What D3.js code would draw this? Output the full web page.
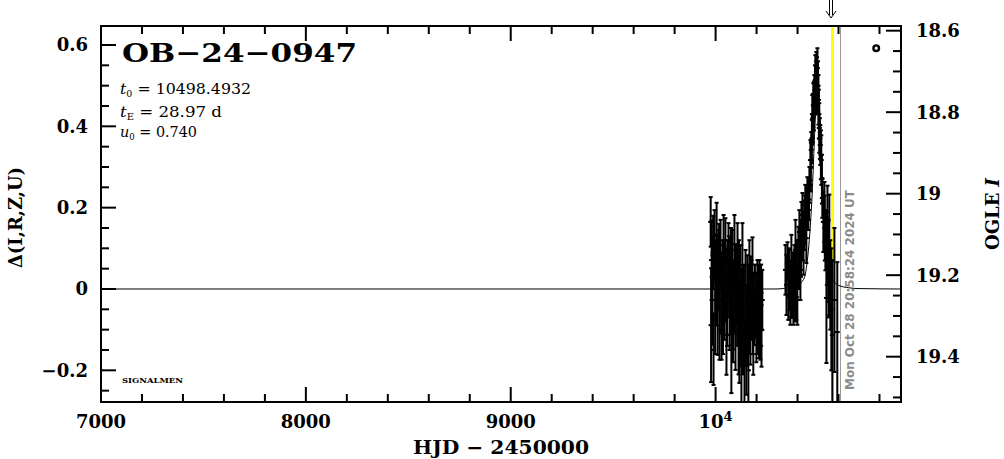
<!DOCTYPE html>
<html><head><meta charset="utf-8">
<script src="https://cdn.jsdelivr.net/npm/d3@7"></script>
<style>body{margin:0;background:#fff}svg{display:block}</style>
</head><body><svg id="c" width="1004" height="459"></svg>
<script>
// ---------------- data ----------------
const eventName = "OB\u221224\u22120947";
const paramSyms = ["t", "t", "u"];
const paramSubs = ["0", "E", "0"];
const paramVals = ["10498.4932", "28.97 d", "0.740"];
const surveyTag = "SIGNALMEN";
const dateLabel = "Mon Oct 28 20:58:24 2024 UT";
const xTitle = "HJD \u2212 2450000";
const yLeftTitle = "\u0394(I,R,Z,U)";
const yRightTitle = "OGLE ";
const yRightTitleItalic = "I";

const xMajorTicks = [7000, 8000, 9000, 10000];
const xTickLabels = ["7000", "8000", "9000", "10^4"];
const yLeftMajorTicks = [-0.2, 0, 0.2, 0.4, 0.6];
const yLeftTickLabels = ["\u22120.2", "0", "0.2", "0.4", "0.6"];
const yRightMajorTicks = [18.6, 18.8, 19.0, 19.2, 19.4];
const yRightTickLabels = ["18.6", "18.8", "19", "19.2", "19.4"];

// observations: HJD-2450000, delta mag, error
const obsT = [9976,9978,9980.5,9985,9990,9995,10000,10005,10010,10014,10019,10024,10029,10034,10039,10043,10048,10053,10058,10063,10068,10073,10077,10082,10087,10092,10097,10102,10107,10112,10116,10121,10126,10131,10136,10141,10146,10150,10155,10160,10165,10170,10175,10180,10184,10189,10199,10204,10209,10214,10219,10224,10228,
 10341,10346,10351,10355,10360,10365,10370,10375,10380,10385,10390,10394,10399,10404,10409,10414,10419,10424,10429,10433,10438,10443,10448,10453,10458,10463,10467,10472,10477,10482,10487,10492,10497,10502,10506,10511,10516,10521,10526,10531,10536,10541,10546,10550,10555,10560,10570,10580,10594,
 9983,9988,9998,10007,10017,10027,10036,10046,10056,10066,10075,10085,10095,10105,10114,10124,10134,10144,10153,10163,10172,10182,10192,10202,10212,10222,
 10358,10368,10378,10388,10397,10407,10417,10427,10436,10446,10456,10465,10470,10475,10480,10485,10490,10495,10500,10504,10509,10514,10519,10533,10543,10552,10565];
const obsD = [0.165,-0.089,0.071,-0.027,-0.15,0.108,0.022,0.133,-0.052,0.047,-0.10,0.084,-0.076,0.01,0.108,-0.027,0.076,-0.113,0.034,0.076,-0.052,-0.002,-0.138,0.047,-0.039,0.096,-0.076,0.01,0.066,-0.10,-0.125,-0.015,-0.175,0.059,-0.052,-0.187,-0.002,-0.125,-0.027,-0.20,0.022,-0.076,-0.027,0.034,-0.113,-0.052,-0.089,-0.015,-0.039,-0.027,-0.064,-0.10,-0.027,
 0.047,0.01,0.071,-0.015,0.022,-0.027,0.059,-0.002,-0.039,0.034,0.096,0.01,-0.027,0.084,0.12,0.047,0.145,0.182,0.096,0.157,0.207,0.125,0.231,0.194,0.256,0.317,0.342,0.416,0.452,0.477,0.514,0.534,0.543,0.465,0.396,0.354,0.317,0.224,0.165,0.189,0.12,-0.022,0.175,0.066,0.084,0.01,-0.113,-0.027,-0.106,
 0.03,0.09,-0.06,0.02,0.06,-0.01,-0.05,0.02,-0.02,0.03,0.05,-0.08,0.0,-0.04,0.02,-0.07,-0.10,-0.06,-0.09,-0.05,-0.02,-0.06,-0.03,-0.06,-0.08,-0.04,
 0.04,0.0,0.02,-0.01,0.05,0.07,0.10,0.13,0.17,0.20,0.22,0.30,0.37,0.42,0.45,0.49,0.50,0.50,0.50,0.43,0.37,0.33,0.27,0.15,0.10,0.05,-0.05];
const obsE = [0.061,0.14,0.098,0.11,0.086,0.086,0.098,0.079,0.11,0.098,0.074,0.086,0.098,0.11,0.074,0.098,0.098,0.098,0.086,0.086,0.098,0.11,0.118,0.098,0.11,0.086,0.123,0.098,0.096,0.11,0.106,0.123,0.11,0.103,0.11,0.11,0.098,0.135,0.11,0.098,0.098,0.11,0.098,0.093,0.098,0.086,0.091,0.086,0.098,0.098,0.11,0.091,0.074,
 0.061,0.074,0.044,0.061,0.074,0.061,0.074,0.069,0.049,0.074,0.074,0.086,0.061,0.069,0.074,0.074,0.069,0.054,0.061,0.061,0.049,0.061,0.044,0.049,0.044,0.049,0.044,0.061,0.054,0.049,0.061,0.049,0.049,0.061,0.061,0.049,0.061,0.049,0.074,0.074,0.074,0.16,0.079,0.098,0.148,0.11,0.184,0.177,0.172,
 0.10,0.09,0.10,0.11,0.10,0.10,0.11,0.10,0.12,0.10,0.10,0.10,0.11,0.10,0.10,0.12,0.11,0.12,0.10,0.11,0.10,0.10,0.09,0.10,0.09,0.10,
 0.06,0.07,0.07,0.07,0.07,0.07,0.07,0.06,0.06,0.05,0.05,0.06,0.06,0.06,0.06,0.06,0.06,0.07,0.06,0.06,0.05,0.06,0.06,0.08,0.09,0.12,0.15];

// model curve
const modelT = [7000, 10300, 10350, 10400, 10430, 10450, 10470, 10485, 10498.5, 10511, 10526, 10546, 10566, 10600, 10650, 10700, 10905];
const modelD = [0, 0, 0.003, 0.01, 0.024, 0.08, 0.22, 0.40, 0.52, 0.40, 0.22, 0.08, 0.03, 0.009, 0.003, 0.001, 0];

const markerT = 10570.7;   // yellow line / arrow
const nowT = 10612.4;      // grey line (date stamp)
const legendT = 10784, legendMag = 18.643;

// ---------------- drawing ----------------
const svg = d3.select("#c");
const X0 = 101, X1 = 901, Y0 = 26, Y1 = 402;
const x = d3.scaleLinear().domain([7000, 10905]).range([X0, X1]);
const y = d3.scaleLinear().domain([-0.2779, 0.6467]).range([Y1, Y0]);
const yM = d3.scaleLinear().domain([18.5885, 19.5112]).range([Y0, Y1]);
const serif = "'DejaVu Serif', serif";

svg.append("rect").attr("width", 1004).attr("height", 459).attr("fill", "#fff");
svg.append("clipPath").attr("id", "clip").append("rect")
  .attr("x", X0).attr("y", Y0).attr("width", X1 - X0).attr("height", Y1 - Y0);
const plot = svg.append("g").attr("clip-path", "url(#clip)");

// yellow marker & grey now-line
plot.append("line").attr("x1", x(markerT)).attr("x2", x(markerT)).attr("y1", Y0).attr("y2", Y1)
  .attr("stroke", "#ffff00").attr("stroke-width", 3);
const gx = Math.round(x(nowT)) - 0.5;
plot.append("line").attr("x1", gx).attr("x2", gx).attr("y1", Y0).attr("y2", Y1)
  .attr("stroke", "#999").attr("stroke-width", 1);

// model
plot.append("path").datum(modelT.map((t, i) => [t, modelD[i]]))
  .attr("d", d3.line().x(d => x(d[0])).y(d => y(d[1])).curve(d3.curveMonotoneX))
  .attr("fill", "none").attr("stroke", "#000").attr("stroke-width", 1);

// observations
const obs = obsT.map((t, i) => ({t, d: obsD[i], e: obsE[i]}));
const og = plot.append("g").attr("stroke", "#000").attr("stroke-width", 2);
obs.forEach(o => {
  const px = x(o.t), yt = y(o.d + o.e), yb = y(o.d - o.e);
  og.append("line").attr("x1", px).attr("x2", px).attr("y1", yt).attr("y2", yb);
  og.append("line").attr("x1", px - 2).attr("x2", px + 2).attr("y1", yt).attr("y2", yt);
  og.append("line").attr("x1", px - 2).attr("x2", px + 2).attr("y1", yb).attr("y2", yb);
  og.append("line").attr("x1", px - 2.5).attr("x2", px + 2.5).attr("y1", y(o.d)).attr("y2", y(o.d));
});

// legend circle
svg.append("circle").attr("cx", x(legendT)).attr("cy", yM(legendMag)).attr("r", 2.8)
  .attr("fill", "none").attr("stroke", "#000").attr("stroke-width", 2.4);

// frame
svg.append("rect").attr("x", X0).attr("y", Y0).attr("width", X1 - X0).attr("height", Y1 - Y0)
  .attr("fill", "none").attr("stroke", "#000").attr("stroke-width", 2);

// ticks
const tk = svg.append("g").attr("stroke", "#000").attr("stroke-width", 2);
const MAJ = 15, MIN = 8;
d3.range(7000, 10905, 200).forEach(t => {
  const len = xMajorTicks.includes(t) ? MAJ : MIN;
  tk.append("line").attr("x1", x(t)).attr("x2", x(t)).attr("y1", Y1).attr("y2", Y1 - len);
  tk.append("line").attr("x1", x(t)).attr("x2", x(t)).attr("y1", Y0).attr("y2", Y0 + len);
});
d3.range(-25, 65, 5).forEach(k => {
  const v = k / 100;
  const len = (k % 20 === 0) ? MAJ : MIN;
  tk.append("line").attr("x1", X0).attr("x2", X0 + len).attr("y1", y(v)).attr("y2", y(v));
});
d3.range(1860, 1955, 5).forEach(k => {
  const v = k / 100;
  const len = (k % 20 === 0) ? MAJ : MIN;
  tk.append("line").attr("x1", X1).attr("x2", X1 - len).attr("y1", yM(v)).attr("y2", yM(v));
});

// tick labels
const lab = svg.append("g").attr("font-family", serif).attr("font-weight", "bold").attr("font-size", 18).attr("fill", "#000");
xMajorTicks.forEach((t, i) => {
  const parts = xTickLabels[i].split("^");
  const tx = lab.append("text").attr("x", x(t)).attr("y", 428).attr("text-anchor", "middle");
  tx.append("tspan").text(parts[0]);
  if (parts[1]) tx.append("tspan").attr("dy", -7).attr("font-size", 13).text(parts[1]);
});
yLeftMajorTicks.forEach((v, i) => {
  lab.append("text").attr("x", 88).attr("y", y(v)).attr("dy", "0.36em").attr("text-anchor", "end").text(yLeftTickLabels[i]);
});
yRightMajorTicks.forEach((v, i) => {
  lab.append("text").attr("x", 916).attr("y", yM(v)).attr("dy", "0.36em").attr("text-anchor", "start").text(yRightTickLabels[i]);
});

// axis titles
svg.append("text").attr("x", 413).attr("y", 454).attr("font-family", serif).attr("font-weight", "bold")
  .attr("font-size", 19).attr("textLength", 176).attr("lengthAdjust", "spacingAndGlyphs").text(xTitle);
svg.append("text").attr("transform", "translate(22,217.5) rotate(-90)").attr("text-anchor", "middle")
  .attr("font-family", serif).attr("font-weight", "bold").attr("font-size", 18)
  .attr("textLength", 101).attr("lengthAdjust", "spacingAndGlyphs").text(yLeftTitle);
const rt = svg.append("text").attr("transform", "translate(999,214) rotate(-90)").attr("text-anchor", "middle")
  .attr("font-family", serif).attr("font-weight", "bold").attr("font-size", 19)
  .attr("textLength", 72).attr("lengthAdjust", "spacingAndGlyphs");
rt.append("tspan").text(yRightTitle);
rt.append("tspan").attr("font-style", "italic").text(yRightTitleItalic);

// event name & parameters
svg.append("text").attr("x", 122).attr("y", 62).attr("font-family", serif).attr("font-weight", "bold")
  .attr("font-size", 26).attr("textLength", 235).attr("lengthAdjust", "spacingAndGlyphs").text(eventName);
const pBase = [94, 117, 137], pLen = [131, 102, 77];
paramSyms.forEach((s, i) => {
  const t = svg.append("text").attr("x", 120).attr("y", pBase[i]).attr("font-family", serif)
    .attr("font-size", 15).attr("textLength", pLen[i]).attr("lengthAdjust", "spacingAndGlyphs");
  t.append("tspan").attr("font-style", "italic").text(s);
  t.append("tspan").attr("font-size", 9).attr("dy", 3).text(paramSubs[i]);
  t.append("tspan").attr("dy", -3).text(" = " + paramVals[i]);
});
svg.append("text").attr("x", 122).attr("y", 383).attr("font-family", serif).attr("font-weight", "bold")
  .attr("font-size", 8).attr("textLength", 61).attr("lengthAdjust", "spacingAndGlyphs").text(surveyTag);

// date stamp
svg.append("text").attr("transform", `translate(${x(nowT) + 13},390) rotate(-90)`)
  .attr("font-family", "'DejaVu Sans', sans-serif").attr("font-weight", "bold").attr("font-size", 12)
  .attr("fill", "#8c8c8c").attr("textLength", 200).attr("lengthAdjust", "spacingAndGlyphs").text(dateLabel);

// arrow at top
const ax = x(markerT) - 1.5;
const ar = svg.append("g").attr("stroke", "#000").attr("stroke-width", 1).attr("fill", "none");
ar.append("line").attr("x1", ax - 1.5).attr("x2", ax - 1.5).attr("y1", 0).attr("y2", 15);
ar.append("line").attr("x1", ax + 1.5).attr("x2", ax + 1.5).attr("y1", 0).attr("y2", 15);
ar.append("path").attr("d", `M${ax - 5},11 L${ax},18 L${ax + 5},11`);
</script></body></html>
